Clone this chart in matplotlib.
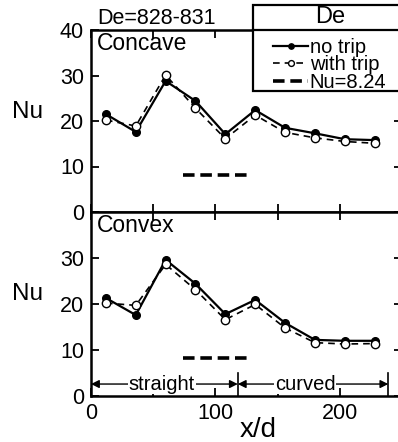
import matplotlib
matplotlib.use("Agg")
import matplotlib.pyplot as plt
from matplotlib.lines import Line2D
from matplotlib.patches import Rectangle

plt.rcParams['font.family'] = ['Liberation Sans', 'DejaVu Sans']

# axial station, x/d
xd = [12, 36, 60, 84, 108, 132, 156, 180, 204, 228]

# Nusselt number, concave wall
concave_no_trip = [21.5, 17.6, 28.8, 24.4, 17.1, 22.4, 18.5, 17.3, 16.0, 15.8]
concave_trip = [20.2, 18.9, 30.1, 22.8, 16.1, 21.3, 17.5, 16.3, 15.5, 15.1]

# Nusselt number, convex wall
convex_no_trip = [21.3, 17.6, 29.6, 24.4, 17.8, 20.9, 15.9, 12.2, 12.0, 12.0]
convex_trip = [20.2, 19.7, 28.6, 23.1, 16.6, 19.9, 14.8, 11.6, 11.3, 11.4]

# laminar fully developed reference
nu_ref = 8.24
nu_ref_span = [74, 126]

# straight / curved sections
straight_end = 118
curved_end = 239

y_ticks = [0, 10, 20, 30, 40]
x_ticks = [0, 50, 100, 150, 200]
x_ticklabels = ['0', '', '100', '', '200']

W, H = 398, 442
fig = plt.figure(figsize=(W / 100, H / 100), dpi=100)

def frac_box(left, top, right, bottom):
    return [left / W, 1 - bottom / H, (right - left) / W, (bottom - top) / H]

ax_top = fig.add_axes(frac_box(91, 30, 402, 212))
ax_bot = fig.add_axes(frac_box(91, 212, 402, 396))

panels = [
    (ax_top, concave_no_trip, concave_trip, 'Concave'),
    (ax_bot, convex_no_trip, convex_trip, 'Convex'),
]

for ax, no_trip, trip, name in panels:
    h1, = ax.plot(xd, no_trip, '-', color='black', lw=1.6, marker='o',
                  ms=5.5, mfc='black', mec='black', zorder=3)
    h2, = ax.plot(xd, trip, '--', color='black', lw=1.2, dashes=(4, 3),
                  marker='o', ms=6, mfc='white', mec='black', mew=1.0, zorder=4)
    h3, = ax.plot(nu_ref_span, [nu_ref, nu_ref], '--', color='black', lw=2.6,
                  dashes=(3.2, 1.6))
    ax.set_xlim(0, 250)
    ax.set_ylim(0, 40)
    ax.set_yticks(y_ticks)
    ax.set_xticks(x_ticks)
    ax.tick_params(direction='in', length=6, width=1.3, labelsize=15.5,
                   top=True, right=True, pad=5)
    for s in ax.spines.values():
        s.set_linewidth(1.8)
    ax.set_ylabel('Nu', rotation=0, fontsize=17.5, va='center', ha='center')
    ax.text(0.02, 0.99, name, transform=ax.transAxes, fontsize=16.5,
            ha='left', va='top')

ax_top.yaxis.set_label_coords(-0.203, 0.55)
ax_bot.yaxis.set_label_coords(-0.203, 0.555)
ax_top.tick_params(labelbottom=False)
ax_top.set_yticklabels([str(v) for v in y_ticks])
ax_bot.set_yticklabels([str(v) for v in y_ticks[:-1]] + [''])
ax_bot.set_xticklabels(x_ticklabels)
ax_bot.set_xlabel('x/d', fontsize=20)
ax_bot.xaxis.set_label_coords(0.537, -0.115)

ax_top.text(0.02, 1.005, 'De=828-831', transform=ax_top.transAxes,
            fontsize=15.5, ha='left', va='bottom')

# straight / curved section markers
y_arrow = 2.6
for xv in (straight_end, curved_end):
    ax_bot.plot([xv, xv], [0, 5], color='black', lw=1.2)
arrow_kw = dict(arrowstyle='<|-|>', color='black', lw=1.0,
                mutation_scale=12, shrinkA=0, shrinkB=0)
ax_bot.annotate('', xy=(0, y_arrow), xytext=(straight_end, y_arrow),
                arrowprops=arrow_kw)
ax_bot.annotate('', xy=(straight_end, y_arrow), xytext=(curved_end, y_arrow),
                arrowprops=arrow_kw)
bbox_kw = dict(facecolor='white', edgecolor='none', pad=0.5)
ax_bot.text(57, y_arrow, 'straight', fontsize=14.5, ha='center', va='center',
            bbox=bbox_kw)
ax_bot.text(172, y_arrow, 'curved', fontsize=14.5, ha='center', va='center',
            bbox=bbox_kw)

# legend box with "De" header
fig.add_artist(Rectangle((253 / W, 1 - 91 / H), 160 / W, 86 / H,
                         transform=fig.transFigure, fill=True,
                         facecolor='white', edgecolor='black', lw=1.6,
                         zorder=5))
fig.add_artist(Line2D([253 / W, 413 / W], [1 - 30 / H, 1 - 30 / H],
                      transform=fig.transFigure, color='black', lw=1.6,
                      zorder=6))
fig.text(330 / W, 1 - 17 / H, 'De', fontsize=17, ha='center', va='center',
         zorder=6)
leg = fig.legend([h1, h2, h3], ['no trip', 'with trip', 'Nu=8.24'],
                 loc='upper left', bbox_to_anchor=(273 / W, 1 - 38 / H),
                 frameon=False, fontsize=14.5, handlelength=1.75,
                 handletextpad=0.08, labelspacing=-0.08, borderpad=0,
                 borderaxespad=0, markerscale=0.7)
leg.set_zorder(7)

fig.savefig('out.png', dpi=100)
